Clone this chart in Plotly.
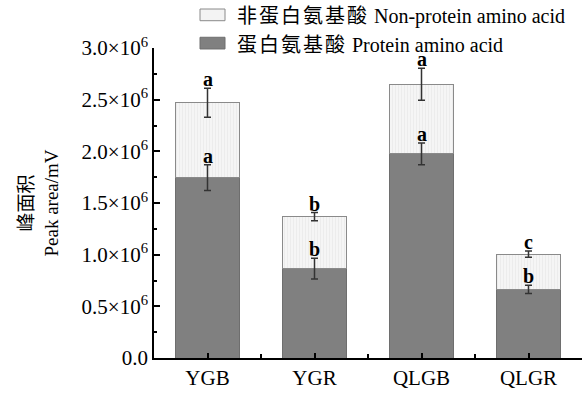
import numpy as np
import plotly.graph_objects as go

categories = ["YGB", "YGR", "QLGB", "QLGR"]
protein = [1.745e6, 0.865e6, 1.975e6, 0.663e6]
protein_err = [0.125e6, 0.10e6, 0.105e6, 0.04e6]
nonprotein = [0.725e6, 0.503e6, 0.675e6, 0.343e6]
total_err = [0.14e6, 0.04e6, 0.155e6, 0.03e6]
protein_letters = ["a", "b", "a", "b"]
total_letters = ["a", "b", "a", "c"]
series_cn = ["非蛋白氨基酸", "蛋白氨基酸"]
series_en = ["Non-protein amino acid", "Protein amino acid"]
ytick_vals = [0, 0.5e6, 1.0e6, 1.5e6, 2.0e6, 2.5e6, 3.0e6]
ytick_text = ["0.0", "0.5×10<sup>6</sup>", "1.0×10<sup>6</sup>", "1.5×10<sup>6</sup>",
              "2.0×10<sup>6</sup>", "2.5×10<sup>6</sup>", "3.0×10<sup>6</sup>"]
ytitle_cn = "峰面积"
ytitle_en = "Peak area/mV"

SERIF = "Liberation Serif"
FONT = "Liberation Serif, Times New Roman, serif"
CJK = "Noto Sans CJK SC"
DARK = "#808080"
LIGHT = "#f3f3f3"


def mixed(cn, en, sep=" ", cjk_style=""):
    return ('<span style="font-family:%s%s">%s</span>%s<span style="font-family:%s">%s</span>'
            % (CJK, cjk_style, cn, sep, SERIF, en))


x = np.arange(len(categories))
totals = [p + n for p, n in zip(protein, nonprotein)]
ERR = dict(color="#333333", thickness=1.5, width=3.5)

fig = go.Figure()
fig.add_trace(go.Bar(
    x=x, y=protein, name=series_en[1], width=0.6,
    marker=dict(color=DARK, line=dict(color="#6e6e6e", width=1)),
))
fig.add_trace(go.Bar(
    x=x, y=nonprotein, name=series_en[0], width=0.6,
    marker=dict(color=LIGHT, line=dict(color="#8a8a8a", width=1),
                pattern=dict(shape="|", fgcolor="#e0e0e0", bgcolor="#f5f5f5", size=3, solidity=0.3)),
))
# error bars drawn on top of bars
fig.add_trace(go.Scatter(x=x, y=protein, mode="markers", marker=dict(size=0.1, opacity=0),
                         error_y=dict(type="data", array=protein_err, **ERR),
                         showlegend=False, hoverinfo="skip"))
fig.add_trace(go.Scatter(x=x, y=totals, mode="markers", marker=dict(size=0.1, opacity=0),
                         error_y=dict(type="data", array=total_err, **ERR),
                         showlegend=False, hoverinfo="skip"))

for i in range(len(categories)):
    fig.add_annotation(x=x[i], y=protein[i] + protein_err[i], text="<b>%s</b>" % protein_letters[i],
                       showarrow=False, yanchor="bottom", yshift=-4,
                       font=dict(family=FONT, size=20, color="black"))
    fig.add_annotation(x=x[i], y=totals[i] + total_err[i], text="<b>%s</b>" % total_letters[i],
                       showarrow=False, yanchor="bottom", yshift=-4,
                       font=dict(family=FONT, size=20, color="black"))

# custom legend (swatches + text), in pixel-based paper coordinates
L, T, W, H = 154, 48, 428, 318
def px(xp):
    return (xp - L) / W
def py(yp):
    return (T + H - yp) / H
legend_rows = [(14, LIGHT, "#8a8a8a", 0), (43, DARK, "#6e6e6e", 1)]
for yc, fill, edge, k in legend_rows:
    fig.add_shape(type="rect", xref="paper", yref="paper",
                  x0=px(200), x1=px(225), y0=py(yc + 6), y1=py(yc - 6),
                  fillcolor=fill, line=dict(color=edge, width=1))
    fig.add_annotation(xref="paper", yref="paper", x=px(235), y=py(yc),
                       text=mixed(series_cn[k], series_en[k], " ", ";letter-spacing:2px"),
                       showarrow=False, xanchor="left", yanchor="middle",
                       font=dict(family=FONT, size=20, color="black"))

fig.update_layout(
    width=586, height=394,
    margin=dict(l=L, r=586 - L - W, t=T, b=394 - T - H),
    barmode="stack",
    plot_bgcolor="white", paper_bgcolor="white",
    font=dict(family=FONT, size=21, color="black"),
    showlegend=False,
    xaxis=dict(range=[-0.5, 3.5], tickvals=list(x), ticktext=categories,
               showline=True, linecolor="black", linewidth=1.5,
               ticks="inside", ticklen=5, tickwidth=1.5, tickcolor="black",
               minor=dict(tickvals=[-0.5, 0.5, 1.5, 2.5, 3.5], ticks="inside", ticklen=4,
                          tickwidth=1.5, tickcolor="black"),
               showgrid=False, zeroline=False, tickfont=dict(family=FONT, size=21)),
    yaxis=dict(range=[0, 3.0e6], tickvals=ytick_vals, ticktext=ytick_text,
               showline=True, linecolor="black", linewidth=1.5,
               ticks="inside", ticklen=6, tickwidth=1.5, tickcolor="black",
               minor=dict(tickvals=[0.25e6, 0.75e6, 1.25e6, 1.75e6, 2.25e6, 2.75e6],
                          ticks="inside", ticklen=3, tickwidth=1.5, tickcolor="black"),
               showgrid=False, zeroline=False, tickfont=dict(family=FONT, size=21),
               title=dict(text=mixed(ytitle_cn, ytitle_en, "<br>"),
                          font=dict(family=FONT, size=19), standoff=18)),
)

fig.write_html("out.html")
